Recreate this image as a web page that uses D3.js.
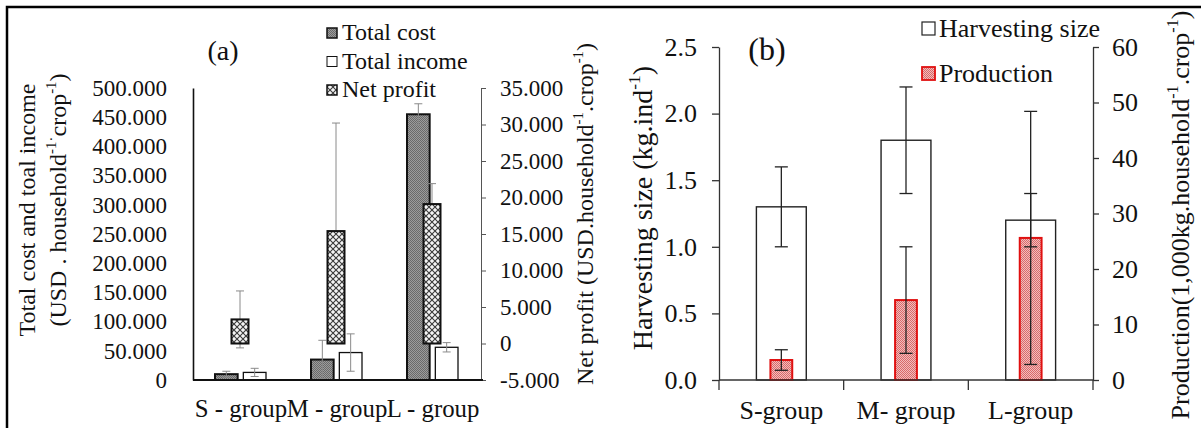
<!DOCTYPE html>
<html><head><meta charset="utf-8">
<script src="https://cdn.jsdelivr.net/npm/d3@7"></script>
<style>html,body{margin:0;padding:0;background:#fff;} svg{display:block;} svg text{font-family:"Liberation Serif";}</style>
</head><body><svg id="chart" width="1201" height="428"></svg>
<script>
// ---------- Data: panel (a) ----------
const categoriesA = ["S - group", "M - group", "L - group"];
const totalCost = [10000, 35000, 455000];
const totalCostErr = [5000, 33000, 18000];
const totalIncome = [13000, 47000, 56000];
const totalIncomeErr = [7000, 32000, 8000];
const netProfit = [3300, 15400, 19100];
const netProfitErr = [3900, 14800, 2800];
const leftTicksA = [0, 50000, 100000, 150000, 200000, 250000, 300000, 350000, 400000, 450000, 500000];
const rightTicksA = [-5000, 0, 5000, 10000, 15000, 20000, 25000, 30000, 35000];
const legendA = ["Total cost", "Total income", "Net profit"];

// ---------- Data: panel (b) ----------
const categoriesB = ["S-group", "M- group", "L-group"];
const harvestSize = [1.3, 1.8, 1.2];
const harvestErr = [0.3, 0.4, 0.2];
const production = [3.6, 14.4, 25.6];
const productionErr = [1.85, 9.6, 22.8];
const leftTicksB = [0, 0.5, 1.0, 1.5, 2.0, 2.5];
const rightTicksB = [0, 10, 20, 30, 40, 50, 60];
const legendB = ["Harvesting size", "Production"];

const FONT = "Liberation Serif";
const svg = d3.select("#chart");
svg.append("rect").attr("width", 1201).attr("height", 428).attr("fill", "#fff");

// ---------- patterns ----------
const defs = svg.append("defs");
const pc = defs.append("pattern").attr("id", "costPat").attr("patternUnits", "userSpaceOnUse").attr("width", 2).attr("height", 2);
pc.append("rect").attr("width", 2).attr("height", 2).attr("fill", "#9c9c9c");
pc.append("rect").attr("width", 1).attr("height", 1).attr("fill", "#6a6a6a");
pc.append("rect").attr("x", 1).attr("y", 1).attr("width", 1).attr("height", 1).attr("fill", "#6a6a6a");

const pn = defs.append("pattern").attr("id", "netPat").attr("patternUnits", "userSpaceOnUse").attr("width", 6).attr("height", 6);
pn.append("rect").attr("width", 6).attr("height", 6).attr("fill", "#f4f4f4");
pn.append("path").attr("d", "M-1,-1L7,7M7,-1L-1,7").attr("stroke", "#3a3a3a").attr("stroke-width", 1.1);

const pp = defs.append("pattern").attr("id", "prodPat").attr("patternUnits", "userSpaceOnUse").attr("width", 2).attr("height", 2);
pp.append("rect").attr("width", 2).attr("height", 2).attr("fill", "#f2bcbc");
pp.append("rect").attr("width", 1).attr("height", 1).attr("fill", "#d86a6a");
pp.append("rect").attr("x", 1).attr("y", 1).attr("width", 1).attr("height", 1).attr("fill", "#d86a6a");

// ---------- helpers ----------
function richText(g, parts, fs) {
  const t = g.append("text").attr("font-size", fs).attr("text-anchor", "middle").attr("fill", "#111");
  let shifted = false;
  parts.forEach(p => {
    const ts = t.append("tspan").text(p.t);
    if (p.sup) {
      ts.attr("font-size", fs * 0.62).attr("dy", shifted ? 0 : -fs * 0.42);
      shifted = true;
    } else {
      if (shifted) { ts.attr("dy", fs * 0.42); shifted = false; }
    }
  });
  return t;
}
function rotTitle(x, y, parts, fs) {
  const g = svg.append("g").attr("transform", `translate(${x},${y}) rotate(-90)`);
  richText(g, parts, fs);
}
function errBar(g, cx, y1, y2, half, color, w) {
  g.append("line").attr("x1", cx).attr("x2", cx).attr("y1", y1).attr("y2", y2).attr("stroke", color).attr("stroke-width", w);
  [y1, y2].forEach(yy => g.append("line").attr("x1", cx - half).attr("x2", cx + half).attr("y1", yy).attr("y2", yy).attr("stroke", color).attr("stroke-width", w));
}

// ---------- frame ----------
svg.append("path").attr("d", "M7,428V7H1201").attr("fill", "none").attr("stroke", "#000").attr("stroke-width", 2.5);

// ================= PANEL (a) =================
const loc = d3.formatLocale({decimal: ",", thousands: ".", grouping: [3], currency: ["", ""], minus: "-"});
const fmtA = loc.format(",");
const xA = d3.scaleBand().domain(categoriesA).range([193, 481]);
const subA = d3.scaleBand().domain(["cost", "income"]).range([22, 73]).paddingInner(0.2);
const yA = d3.scaleLinear().domain([0, 500000]).range([380, 88]);
const yA2 = d3.scaleLinear().domain([-5000, 35000]).range([380, 88]);
const gA = svg.append("g");

gA.selectAll(".cost").data(categoriesA).join("rect")
  .attr("x", c => xA(c) + subA("cost")).attr("width", subA.bandwidth())
  .attr("y", (c, i) => yA(totalCost[i])).attr("height", (c, i) => yA(0) - yA(totalCost[i]))
  .attr("fill", "url(#costPat)").attr("stroke", "#111").attr("stroke-width", 2);
gA.selectAll(".inc").data(categoriesA).join("rect")
  .attr("x", c => xA(c) + subA("income")).attr("width", subA.bandwidth())
  .attr("y", (c, i) => yA(totalIncome[i])).attr("height", (c, i) => yA(0) - yA(totalIncome[i]))
  .attr("fill", "#fff").attr("stroke", "#111").attr("stroke-width", 1.3);
categoriesA.forEach((c, i) => {
  const cx1 = xA(c) + subA("cost") + subA.bandwidth() / 2;
  errBar(gA, cx1, yA(totalCost[i] + totalCostErr[i]), yA(totalCost[i] - totalCostErr[i]), 4, "#8a8a8a", 1);
  const cx2 = xA(c) + subA("income") + subA.bandwidth() / 2;
  errBar(gA, cx2, yA(totalIncome[i] + totalIncomeErr[i]), yA(totalIncome[i] - totalIncomeErr[i]), 4, "#8a8a8a", 1);
});
const npW = 17;
categoriesA.forEach((c, i) => {
  const cx = xA(c) + xA.bandwidth() / 2 - 1;
  errBar(gA, cx, yA2(netProfit[i] + netProfitErr[i]), yA2(netProfit[i] - netProfitErr[i]), 4, "#8a8a8a", 1);
});
gA.selectAll(".np").data(categoriesA).join("rect")
  .attr("x", c => xA(c) + xA.bandwidth() / 2 - 1 - npW / 2).attr("width", npW)
  .attr("y", (c, i) => yA2(netProfit[i])).attr("height", (c, i) => yA2(0) - yA2(netProfit[i]))
  .attr("fill", "url(#netPat)").attr("stroke", "#111").attr("stroke-width", 2);

const axLA = gA.append("g").attr("transform", "translate(193,0)")
  .call(d3.axisLeft(yA).tickValues(leftTicksA).tickFormat(fmtA).tickSize(0).tickSizeOuter(0).tickPadding(26));
axLA.select(".domain").attr("stroke", "#111").attr("stroke-width", 1.6);
axLA.selectAll("text").attr("font-size", 23).attr("font-family", FONT).attr("fill", "#111");
const axRA = gA.append("g").attr("transform", "translate(481,0)")
  .call(d3.axisRight(yA2).tickValues(rightTicksA).tickFormat(fmtA).tickSize(5).tickSizeOuter(0).tickPadding(14));
axRA.select(".domain").attr("stroke", "#555").attr("stroke-width", 1);
axRA.selectAll("line").attr("stroke", "#555");
axRA.selectAll("text").attr("font-size", 23).attr("font-family", FONT).attr("fill", "#111");
gA.append("line").attr("x1", 193).attr("x2", 483).attr("y1", 380).attr("y2", 380).attr("stroke", "#111").attr("stroke-width", 1.8);
const axBA = gA.append("g").attr("transform", "translate(0,380)")
  .call(d3.axisBottom(xA).tickSize(0).tickPadding(19));
axBA.select(".domain").remove();
axBA.selectAll("text").attr("font-size", 24.8).attr("font-family", FONT).attr("fill", "#111");

rotTitle(35, 210, [{t: "Total cost and toal income"}], 24);
rotTitle(66, 200, [{t: "(USD . household"}, {t: "-1·", sup: true}, {t: "crop"}, {t: "-1", sup: true}, {t: ")"}], 24);
rotTitle(593, 214, [{t: "Net profit (USD.household"}, {t: "-1", sup: true}, {t: ".crop"}, {t: "-1", sup: true}, {t: ")"}], 24);
svg.append("text").attr("x", 223).attr("y", 60).attr("text-anchor", "middle").attr("font-size", 28).attr("fill", "#111").text("(a)");

const legFillA = ["url(#costPat)", "#fff", "url(#netPat)"];
legendA.forEach((name, i) => {
  const by = 40 + i * 28.5;
  svg.append("rect").attr("x", 327).attr("y", by - 12).attr("width", 10).attr("height", 10)
    .attr("fill", legFillA[i]).attr("stroke", "#111").attr("stroke-width", i === 1 ? 1 : 1.5);
  svg.append("text").attr("x", 342).attr("y", by).attr("font-size", 24).attr("fill", "#111").text(name);
});

// ================= PANEL (b) =================
const xB = d3.scaleBand().domain(categoriesB).range([719, 1093]);
const yB = d3.scaleLinear().domain([0, 2.5]).range([380, 47]);
const yB2 = d3.scaleLinear().domain([0, 60]).range([380, 47]);
const gB = svg.append("g");
const hW = xB.bandwidth() * 0.4, pW = xB.bandwidth() * 0.175;

gB.selectAll(".hs").data(categoriesB).join("rect")
  .attr("x", c => xB(c) + xB.bandwidth() / 2 - hW / 2).attr("width", hW)
  .attr("y", (c, i) => yB(harvestSize[i])).attr("height", (c, i) => yB(0) - yB(harvestSize[i]))
  .attr("fill", "#fff").attr("stroke", "#222").attr("stroke-width", 1.4);
gB.selectAll(".pr").data(categoriesB).join("rect")
  .attr("x", c => xB(c) + xB.bandwidth() / 2 - pW / 2).attr("width", pW)
  .attr("y", (c, i) => yB2(production[i])).attr("height", (c, i) => yB2(0) - yB2(production[i]))
  .attr("fill", "url(#prodPat)").attr("stroke", "#e01010").attr("stroke-width", 2);
categoriesB.forEach((c, i) => {
  const cx = xB(c) + xB.bandwidth() / 2;
  errBar(gB, cx, yB(harvestSize[i] + harvestErr[i]), yB(harvestSize[i] - harvestErr[i]), 6.5, "#222", 1.3);
  errBar(gB, cx, yB2(production[i] + productionErr[i]), yB2(production[i] - productionErr[i]), 6.5, "#222", 1.3);
});

const axLB = gB.append("g").attr("transform", "translate(719,0)")
  .call(d3.axisLeft(yB).tickValues(leftTicksB).tickFormat(d3.format(".1f")).tickSize(7).tickSizeOuter(0).tickPadding(15));
const axRB = gB.append("g").attr("transform", "translate(1093,0)")
  .call(d3.axisRight(yB2).tickValues(rightTicksB).tickFormat(d3.format("d")).tickSize(6).tickSizeOuter(0).tickPadding(13));
[axLB, axRB].forEach(a => {
  a.select(".domain").attr("stroke", "#333").attr("stroke-width", 1.3);
  a.selectAll("line").attr("stroke", "#333").attr("stroke-width", 1.3);
  a.selectAll("text").attr("font-size", 26).attr("font-family", FONT).attr("fill", "#111");
});
const axBB = gB.append("g").attr("transform", "translate(0,380)")
  .call(d3.axisBottom(xB).tickSize(0).tickPadding(21));
axBB.select(".domain").remove();
axBB.selectAll("text").attr("font-size", 26).attr("font-family", FONT).attr("fill", "#111");
gB.append("line").attr("x1", 719).attr("x2", 1093).attr("y1", 380).attr("y2", 380).attr("stroke", "#333").attr("stroke-width", 1.3);
const bounds = categoriesB.map(c => xB(c)).concat([xB.range()[1]]);
gB.selectAll(".bt").data(bounds).join("line")
  .attr("x1", d => d).attr("x2", d => d).attr("y1", 380).attr("y2", 390).attr("stroke", "#333").attr("stroke-width", 1.3);

rotTitle(652, 208, [{t: "Harvesting size (kg.ind"}, {t: "-1", sup: true}, {t: ")"}], 28);
rotTitle(1189, 215, [{t: "Production(1,000kg.household"}, {t: "-1", sup: true}, {t: ".crop"}, {t: "-1", sup: true}, {t: ")"}], 26);
svg.append("text").attr("x", 767).attr("y", 60).attr("text-anchor", "middle").attr("font-size", 32).attr("fill", "#111").text("(b)");

const legFillB = ["#fff", "url(#prodPat)"];
const legStrokeB = ["#222", "#e01010"];
legendB.forEach((name, i) => {
  const by = 37 + i * 45;
  svg.append("rect").attr("x", 922).attr("y", by - 15).attr("width", 13).attr("height", 13)
    .attr("fill", legFillB[i]).attr("stroke", legStrokeB[i]).attr("stroke-width", i ? 1.8 : 1.2);
  svg.append("text").attr("x", 939).attr("y", by).attr("font-size", 26).attr("fill", "#111").text(name);
});
</script></body></html>
